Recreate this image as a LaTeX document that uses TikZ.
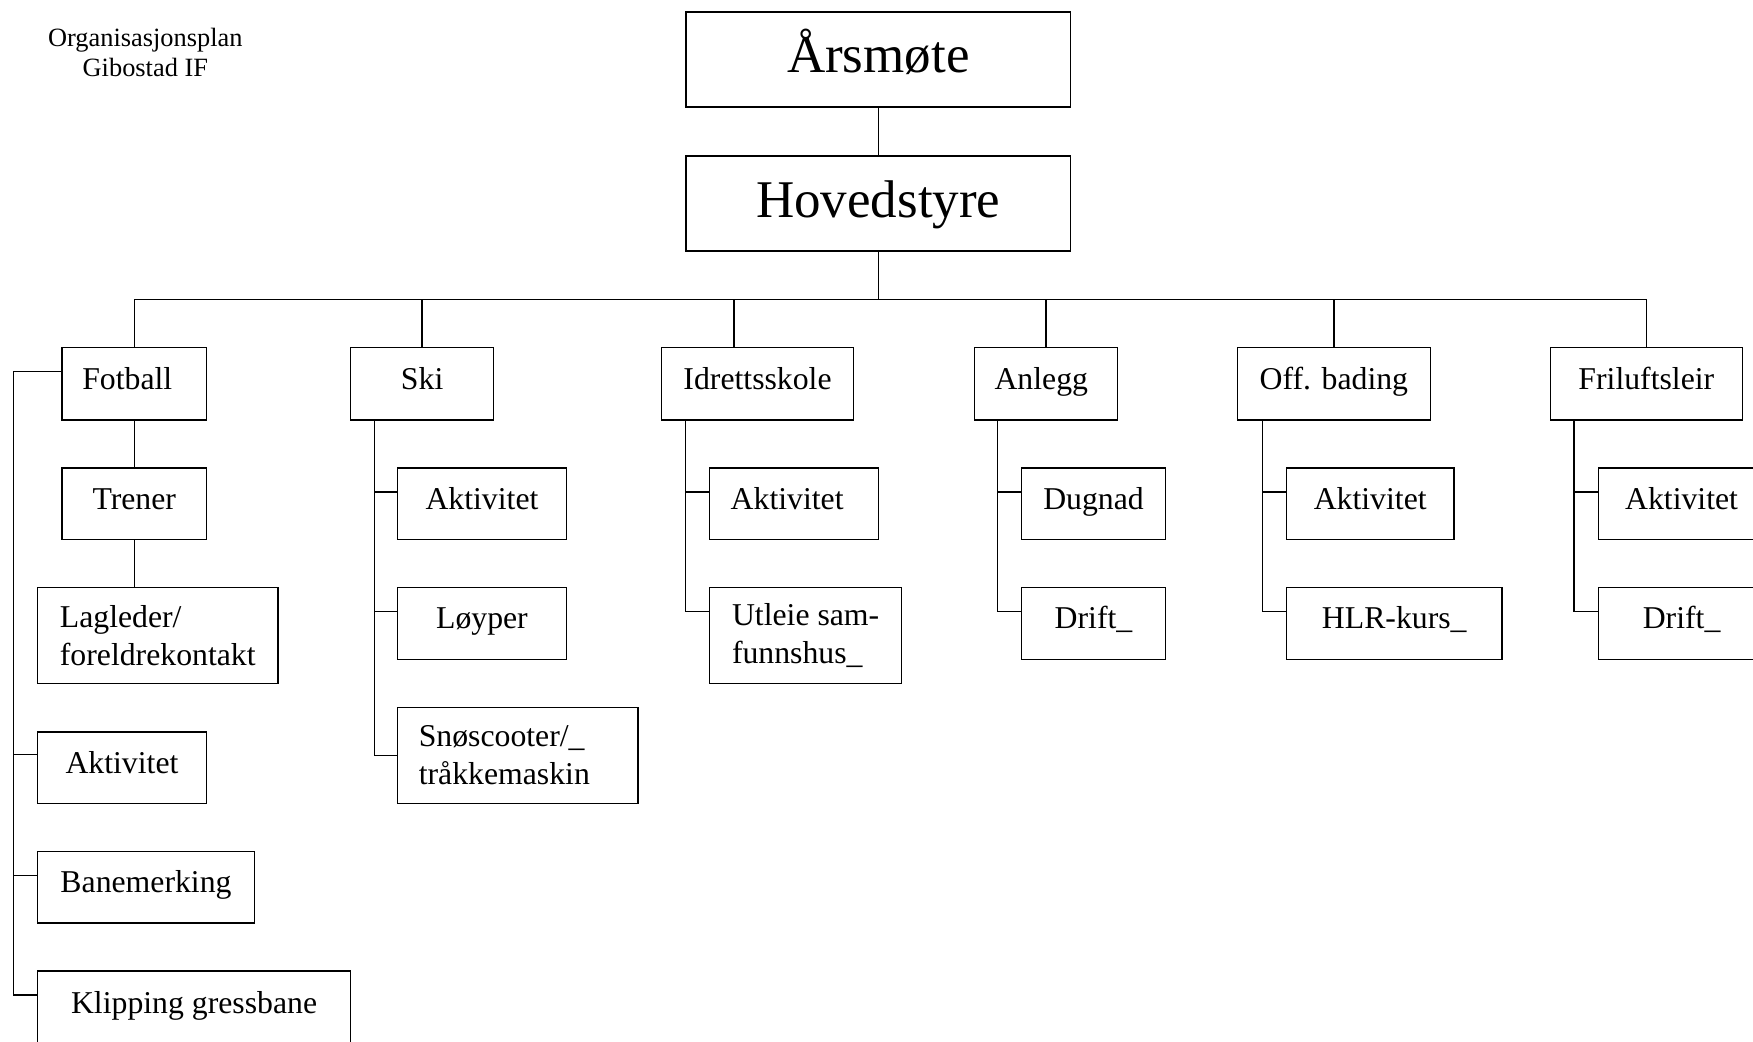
\documentclass[tikz,border=0pt]{standalone}
\usepackage{fontspec}
\setmainfont{Liberation Serif}
\begin{document}
\begin{tikzpicture}[x=0.5pt,y=-0.5pt,line width=0.6pt,
  bx/.style={draw,inner sep=0pt,anchor=north west,font=\fontsize{14.2}{17}\selectfont},
  one/.style={text height=9.5pt,text depth=4.5pt},
  sz/.style 2 args={minimum width=#1*0.5pt,minimum height=#2*0.5pt},
  big/.style={font=\fontsize{23.7}{28}\selectfont,text height=17pt,text depth=5pt},
  ttl/.style={font=\fontsize{11.8}{13.5}\selectfont,align=center,inner sep=0pt}]
\useasboundingbox (0,0) rectangle (1568,932);
% title
\node[ttl] (title) at (130,47) {Organisasjonsplan\\Gibostad IF};
% top
\node[bx,big,sz={344}{85}] (ars) at (613,10) {Årsmøte};
\node[bx,big,sz={344}{85}] (hov) at (613,139) {Hovedstyre};
% level 1
\node[bx,one,sz={129}{65},align=left,inner xsep=9pt,text width=46.5pt] (fot) at (55,310) {Fotball};
\node[bx,one,sz={128}{65}] (ski) at (313,310) {Ski};
\node[bx,one,sz={172}{65}] (idr) at (591,310) {Idrettsskole};
\node[bx,one,sz={128}{65},align=left,inner xsep=9pt,text width=46pt] (anl) at (871,310) {Anlegg};
\node[bx,one,sz={173}{65}] (off) at (1106,310) {Off. bading};
\node[bx,one,sz={172}{65}] (fri) at (1386,310) {Friluftsleir};
% fotball children
\node[bx,one,sz={129}{64}] (tre) at (55,418) {Trener};
\node[bx,sz={215}{86},align=left] (lag) at (33,525) {Lagleder/\\foreldrekontakt};
\node[bx,one,sz={151}{64}] (fak) at (33,654) {Aktivitet};
\node[bx,one,sz={194}{64}] (fba) at (33,761) {Banemerking};
\node[bx,one,sz={280}{66}] (fkl) at (33,868) {Klipping gressbane};
% ski children
\node[bx,one,sz={151}{64}] (ska) at (355,418) {Aktivitet};
\node[bx,one,sz={151}{64}] (slo) at (355,525) {Løyper};
\node[bx,sz={215}{86},align=left,inner xsep=9.5pt,text width=88.5pt] (ssn) at (355,632) {Snøscooter/\_\\tråkkemaskin};
% idrettsskole children
\node[bx,one,sz={151}{64},align=left,inner xsep=9.5pt,text width=56.5pt] (iak) at (634,418) {Aktivitet};
\node[bx,sz={172}{86},align=left] (iut) at (634,525) {Utleie sam-\\funnshus\_};
% anlegg children
\node[bx,one,sz={129}{64}] (adu) at (913,418) {Dugnad};
\node[bx,one,sz={129}{64}] (adr) at (913,525) {Drift\_};
% off. bading children
\node[bx,one,sz={150}{64}] (oak) at (1150,418) {Aktivitet};
\node[bx,one,sz={193}{64}] (ohl) at (1150,525) {HLR-kurs\_};
% friluftsleir children
\node[bx,one,sz={149}{64}] (rak) at (1429,418) {Aktivitet};
\node[bx,one,sz={149}{64}] (rdr) at (1429,525) {Drift\_};
% connectors top
\coordinate (bus) at (785,268);
\draw (ars.south) -- (hov.north);
\draw (hov.south) -- (hov.south |- bus);
\draw (fot.north) -- (fot.north |- bus) -- (fri.north |- bus) -- (fri.north);
\draw (ski.north) -- (ski.north |- bus);
\draw ([xshift=-10.5pt]idr.north) -- ([xshift=-10.5pt]idr.north |- bus);
\draw (anl.north) -- (anl.north |- bus);
\draw (off.north) -- (off.north |- bus);
% fotball
\draw (fot.south) -- (tre.north);
\draw (tre.south) -- (tre.south |- lag.north);
\draw ([yshift=-11pt]fot.north west) -| ([xshift=-10.5pt,yshift=-11pt]fkl.north west) -- ([yshift=-11pt]fkl.north west);
\draw ([yshift=-10.5pt]fak.north west) -- ([xshift=-10.5pt,yshift=-10.5pt]fak.north west);
\draw ([yshift=-11pt]fba.north west) -- ([xshift=-10.5pt,yshift=-11pt]fba.north west);
% ski
\draw ([xshift=11pt]ski.south west) |- (ssn.west);
\draw ([yshift=-11pt]ska.north west) -- ([xshift=-10pt,yshift=-11pt]ska.north west);
\draw ([yshift=-11pt]slo.north west) -- ([xshift=-10pt,yshift=-11pt]slo.north west);
% idrettsskole
\draw ([xshift=11pt]idr.south west) |- ([yshift=-11pt]iut.north west);
\draw ([yshift=-11pt]iak.north west) -- ([xshift=-10.5pt,yshift=-11pt]iak.north west);
% anlegg
\draw ([xshift=10.5pt]anl.south west) |- ([yshift=-11pt]adr.north west);
\draw ([yshift=-11pt]adu.north west) -- ([xshift=-10.5pt,yshift=-11pt]adu.north west);
% off. bading
\draw ([xshift=11.5pt]off.south west) |- ([yshift=-11pt]ohl.north west);
\draw ([yshift=-11pt]oak.north west) -- ([xshift=-10.5pt,yshift=-11pt]oak.north west);
% friluftsleir
\draw ([xshift=11pt]fri.south west) |- ([yshift=-11pt]rdr.north west);
\draw ([yshift=-11pt]rak.north west) -- ([xshift=-10.5pt,yshift=-11pt]rak.north west);
\end{tikzpicture}
\end{document}
